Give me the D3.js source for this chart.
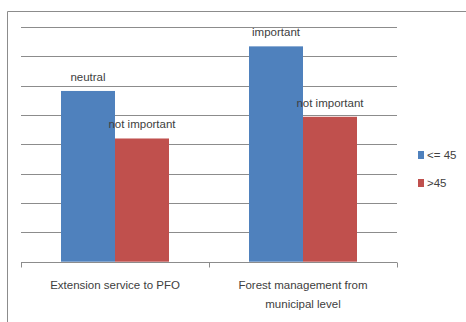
<!DOCTYPE html>
<html>
<head>
<meta charset="utf-8">
<script src="https://cdn.jsdelivr.net/npm/d3@7"></script>
<style>
  html, body { margin: 0; padding: 0; background: #fff; }
  svg { display: block; font-family: "Liberation Sans", Arial, sans-serif; }
</style>
</head>
<body>
<svg id="chart" width="466" height="322"></svg>
<script>
// Categories (label lines) and series
const categories = ["Extension service to PFO", "Forest management from municipal level"];
const categoryLines = [["Extension service to PFO"], ["Forest management from", "municipal level"]];
const seriesNames = ["<= 45", ">45"];
const youngValues = [2.91, 3.67];
const olderValues = [2.10, 2.47];
const youngLabels = ["neutral", "important"];
const olderLabels = ["not important", "not important"];
const yTicks = [0, 0.5, 1, 1.5, 2, 2.5, 3, 3.5, 4];

const colors = ["#4F81BD", "#C0504D"];
const series = [
  { name: seriesNames[0], values: youngValues, labels: youngLabels, color: colors[0] },
  { name: seriesNames[1], values: olderValues, labels: olderLabels, color: colors[1] }
];

const svg = d3.select("#chart");

// outer frame (top and left edges visible)
svg.append("path")
  .attr("d", "M7.5,322 L7.5,11.5 L466,11.5")
  .attr("fill", "none").attr("stroke", "#8c8c8c").attr("stroke-width", 1);

const plot = { left: 21, right: 397, top: 27, bottom: 261.7 };

const x0 = d3.scaleBand().domain(categories).range([plot.left, plot.right]).paddingInner(0).paddingOuter(0);
const barW = 54;
const y = d3.scaleLinear().domain([0, 4]).range([plot.bottom, plot.top]);

// horizontal gridlines
svg.append("g").selectAll("line").data(yTicks.slice(1)).join("line")
  .attr("x1", plot.left).attr("x2", plot.right)
  .attr("y1", d => Math.round(y(d)) + 0.5).attr("y2", d => Math.round(y(d)) + 0.5)
  .attr("stroke", "#8c8c8c").attr("stroke-width", 1);

// bars
const groups = svg.append("g").selectAll("g").data(categories).join("g");
series.forEach((s, si) => {
  groups.append("rect")
    .attr("x", c => x0(c) + x0.bandwidth() / 2 - barW + si * barW)
    .attr("y", (c, i) => y(s.values[i]))
    .attr("width", barW)
    .attr("height", (c, i) => plot.bottom - y(s.values[i]))
    .attr("fill", s.color);
});

// value-category labels above bars
series.forEach((s, si) => {
  groups.append("text")
    .attr("x", c => x0(c) + x0.bandwidth() / 2 - barW / 2 + si * barW)
    .attr("y", (c, i) => y(s.values[i]) - 10)
    .attr("text-anchor", "middle")
    .attr("font-size", 11.5)
    .attr("fill", "#404040")
    .text((c, i) => s.labels[i]);
});

// x axis baseline with ticks
const axisY = Math.round(plot.bottom) + 0.5;
const xAxis = svg.append("g");
xAxis.append("line")
  .attr("x1", plot.left).attr("x2", plot.right)
  .attr("y1", axisY).attr("y2", axisY)
  .attr("stroke", "#8c8c8c");
const tickXs = categories.map(c => x0(c)).concat([x0(categories[categories.length - 1]) + x0.bandwidth()]);
xAxis.selectAll("line.tick").data(tickXs).join("line")
  .attr("class", "tick")
  .attr("x1", d => Math.round(d) + 0.5).attr("x2", d => Math.round(d) + 0.5)
  .attr("y1", axisY).attr("y2", axisY + 5)
  .attr("stroke", "#8c8c8c");

// category labels
categories.forEach((c, i) => {
  const t = xAxis.append("text")
    .attr("x", x0(c) + x0.bandwidth() / 2)
    .attr("y", 289)
    .attr("text-anchor", "middle")
    .attr("font-size", 11.5)
    .attr("fill", "#404040");
  categoryLines[i].forEach((line, li) => {
    t.append("tspan")
      .attr("x", x0(c) + x0.bandwidth() / 2)
      .attr("dy", li === 0 ? 0 : 18.5)
      .text(line);
  });
});

// legend
const legend = svg.append("g");
series.forEach((s, i) => {
  const ly = 155 + i * 28;
  legend.append("rect")
    .attr("x", 418).attr("y", ly - 4).attr("width", 6).attr("height", 8)
    .attr("fill", s.color);
  legend.append("text")
    .attr("x", 427).attr("y", ly + 4)
    .attr("font-size", 11.5).attr("fill", "#404040")
    .text(s.name);
});
</script>
</body>
</html>
